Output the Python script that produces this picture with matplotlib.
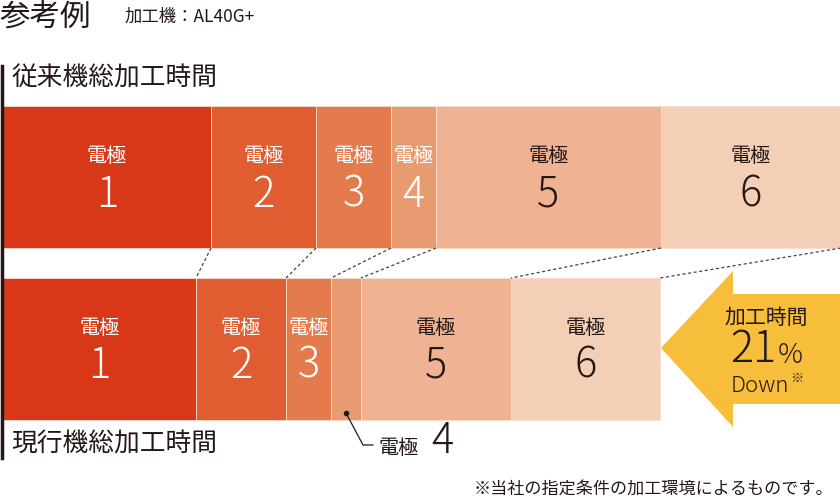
import matplotlib
matplotlib.use("Agg")
import matplotlib.pyplot as plt
from matplotlib.patches import Polygon
import numpy as np

plt.rcParams['font.family'] = ['Noto Sans CJK JP', 'DejaVu Sans']

# machining time per electrode (px-scaled units)
electrodes = ['1', '2', '3', '4', '5', '6']
old_times = [208, 105, 75, 45, 225, 180]
new_times = [193, 90, 45, 30, 150, 149]
reduction = '21'
colors = ['#d93818', '#e05d31', '#e47b4c', '#e89b71', '#efb394', '#f2cfb6']
label_colors = ['white', 'white', 'white', 'white', '#231815', '#231815']

x0 = 3
old_left = x0 + np.concatenate([[0], np.cumsum(old_times)[:-1]])
new_left = x0 + np.concatenate([[0], np.cumsum(new_times)[:-1]])
old_end = x0 + np.cumsum(old_times)
new_end = x0 + np.cumsum(new_times)

fig = plt.figure(figsize=(8.4, 5.0), dpi=100)
ax = fig.add_axes([0, 0, 1, 1])
ax.set_xlim(0, 840)
ax.set_ylim(500, 0)
ax.axis('off')

top_y, top_h = 177, 142
bot_y, bot_h = 349, 142
dark = '#231815'

ax.barh(top_y, old_times, left=old_left, height=top_h, color=colors,
        edgecolor='#f6dccd', linewidth=0.6)
ax.barh(bot_y, new_times, left=new_left, height=bot_h, color=colors,
        edgecolor='#f6dccd', linewidth=0.6)

# dotted connectors between the bars
for a, b in zip(old_end, new_end):
    ax.plot([a, b], [top_y + top_h / 2, bot_y - bot_h / 2], color='#444444',
            lw=0.9, ls=(0, (2.5, 2)))

# labels in the bars
for i, e in enumerate(electrodes):
    cx = old_left[i] + old_times[i] / 2
    ax.text(cx, 157, '電極', ha='center', va='center', fontsize=14.5,
            color=label_colors[i])
    ax.text(cx, 195, e, ha='center', va='center', fontsize=30,
            color=label_colors[i], fontweight='light')
    if e == '4':
        continue
    cx = new_left[i] + new_times[i] / 2
    ax.text(cx, 328, '電極', ha='center', va='center', fontsize=14.5,
            color=label_colors[i])
    ax.text(cx, 366, e, ha='center', va='center', fontsize=30,
            color=label_colors[i], fontweight='light')

# callout for electrode 4 in the new bar
cx4 = new_left[3] + new_times[3] / 2
ax.plot([cx4], [413], 'o', color=dark, ms=3)
ax.plot([cx4, 363, 373], [413, 445, 445], color=dark, lw=0.9)
ax.text(378, 448, '電極', ha='left', va='center', fontsize=14.5, color=dark)
ax.text(431, 441, electrodes[3], ha='left', va='center', fontsize=30,
        color=dark, fontweight='light')

# left vertical rule
ax.plot([1.5, 1.5], [66, 458], color=dark, lw=2.5)

# titles
ax.text(-1, 17, '参考例', ha='left', va='center', fontsize=22, color=dark)
ax.text(125, 17, '加工機：AL40G+', ha='left', va='center', fontsize=12.5,
        color=dark)
ax.text(11, 79, '従来機総加工時間', ha='left', va='center', fontsize=18.5,
        color=dark)
ax.text(11, 445, '現行機総加工時間', ha='left', va='center', fontsize=18.5,
        color=dark)
ax.text(833, 489, '※当社の指定条件の加工環境によるものです。', ha='right',
        va='center', fontsize=12.3, color=dark)

# reduction arrow
tip = new_end[-1] + 1
arrow = Polygon([(tip, 348), (733, 271), (733, 294), (840, 294), (840, 404),
                 (733, 404), (733, 427)], closed=True, color='#f6be3b', lw=0)
ax.add_patch(arrow)
ax.text(766, 318, '加工時間', ha='center', va='center', fontsize=15,
        color=dark)
ax.text(753, 349, reduction, ha='center', va='center', fontsize=31,
        color=dark, fontweight='light')
ax.text(790, 355, '%', ha='center', va='center', fontsize=20,
        color=dark, fontweight='light')
ax.text(760, 386, 'Down', ha='center', va='center', fontsize=16,
        color=dark, fontweight='light')
ax.text(797, 379, '※', ha='center', va='center', fontsize=9.5,
        color=dark)

fig.savefig('out.png', dpi=100)
